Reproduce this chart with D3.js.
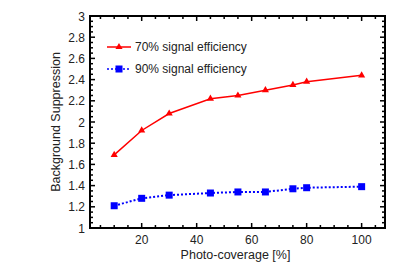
<!DOCTYPE html>
<html><head><meta charset="utf-8">
<script src="https://cdn.jsdelivr.net/npm/d3@7"></script>
<style>body{margin:0;background:#fff}svg{display:block}text{font-family:"Liberation Sans",Arial,sans-serif}</style>
</head><body>
<svg id="c" width="407" height="276"></svg>
<script>
const coverage = [10, 20, 30, 45, 55, 65, 75, 80, 100];
const eff70 = [1.69, 1.92, 2.08, 2.22, 2.25, 2.30, 2.35, 2.38, 2.44];
const eff90 = [1.21, 1.28, 1.31, 1.33, 1.34, 1.34, 1.37, 1.38, 1.39];
const xTicks = [20, 40, 60, 80, 100];
const yTicks = [1, 1.2, 1.4, 1.6, 1.8, 2, 2.2, 2.4, 2.6, 2.8, 3];
const seriesNames = ["70% signal efficiency", "90% signal efficiency"];

const svg = d3.select("#c");
const L = 90, R = 385, T = 16, B = 228;
const x = d3.scaleLinear().domain([1.2, 108.5]).range([L, R]);
const y = d3.scaleLinear().domain([1, 3]).range([B, T]);

const g = svg.append("g");
const minorX = d3.range(5, 108, 5);
const minorY = d3.range(1, 3.0001, 0.05);

function drawTicks() {
  minorX.forEach(v => {
    const major = Math.abs(v % 20) < 1e-6;
    const len = major ? 5 : 3;
    g.append("line").attr("x1", x(v)).attr("x2", x(v)).attr("y1", B).attr("y2", B - len).attr("stroke", "#000").attr("stroke-width", 1.5);
    g.append("line").attr("x1", x(v)).attr("x2", x(v)).attr("y1", T).attr("y2", T + len).attr("stroke", "#000").attr("stroke-width", 1.5);
  });
  minorY.forEach(v => {
    const major = Math.abs(Math.round(v * 5) - v * 5) < 1e-6;
    const len = major ? 5 : 3;
    g.append("line").attr("y1", y(v)).attr("y2", y(v)).attr("x1", L).attr("x2", L + len).attr("stroke", "#000").attr("stroke-width", 1.5);
    g.append("line").attr("y1", y(v)).attr("y2", y(v)).attr("x1", R).attr("x2", R - len).attr("stroke", "#000").attr("stroke-width", 1.5);
  });
}
drawTicks();

g.append("rect").attr("x", L).attr("y", T).attr("width", R - L).attr("height", B - T)
  .attr("fill", "none").attr("stroke", "#000").attr("stroke-width", 2);

xTicks.forEach(v => g.append("text").attr("x", x(v)).attr("y", B + 16).attr("text-anchor", "middle").attr("font-size", 12).attr("fill", "#222").text(v));
yTicks.forEach(v => g.append("text").attr("x", L - 5).attr("y", y(v) + 4.5).attr("text-anchor", "end").attr("font-size", 12).attr("fill", "#222").text(d3.format("~g")(v)));

g.append("text").attr("x", (L + R) / 2 - 2).attr("y", 259).attr("text-anchor", "middle").attr("font-size", 12.5).attr("fill", "#222").text("Photo-coverage [%]");
g.append("text").attr("transform", `translate(60,${(T + B) / 2}) rotate(-90)`).attr("text-anchor", "middle").attr("font-size", 12.5).attr("fill", "#222").text("Background Suppression");

const line = d3.line().x((d, i) => x(coverage[i])).y(d => y(d));
const tri = d3.symbol().type(d3.symbolTriangle).size(22);

g.append("path").datum(eff70).attr("d", line).attr("fill", "none").attr("stroke", "#f00").attr("stroke-width", 1.5);
g.selectAll(".tri").data(eff70).enter().append("path").attr("d", tri)
  .attr("transform", (d, i) => `translate(${x(coverage[i])},${y(d)})`).attr("fill", "#f00");

g.append("path").datum(eff90).attr("d", line).attr("fill", "none").attr("stroke", "#00f").attr("stroke-width", 2).attr("stroke-dasharray", "2,2");
g.selectAll(".sq").data(eff90).enter().append("rect")
  .attr("x", (d, i) => x(coverage[i]) - 3.5).attr("y", d => y(d) - 3.5).attr("width", 7).attr("height", 7).attr("fill", "#00f");

const lg = [{y: 47, c: "#f00", dash: null, w: 1.5, m: "tri"}, {y: 69, c: "#00f", dash: "2,2", w: 1.5, m: "sq"}];
lg.forEach((o, i) => {
  g.append("line").attr("x1", 107).attr("x2", 131).attr("y1", o.y).attr("y2", o.y).attr("stroke", o.c).attr("stroke-width", o.w).attr("stroke-dasharray", o.dash);
  if (o.m === "tri") g.append("path").attr("d", tri).attr("transform", `translate(119,${o.y})`).attr("fill", o.c);
  else g.append("rect").attr("x", 115.5).attr("y", o.y - 3.5).attr("width", 7).attr("height", 7).attr("fill", o.c);
  g.append("text").attr("x", 135).attr("y", o.y + 4).attr("font-size", 12).attr("fill", "#222").text(seriesNames[i]);
});
</script>
</body></html>
